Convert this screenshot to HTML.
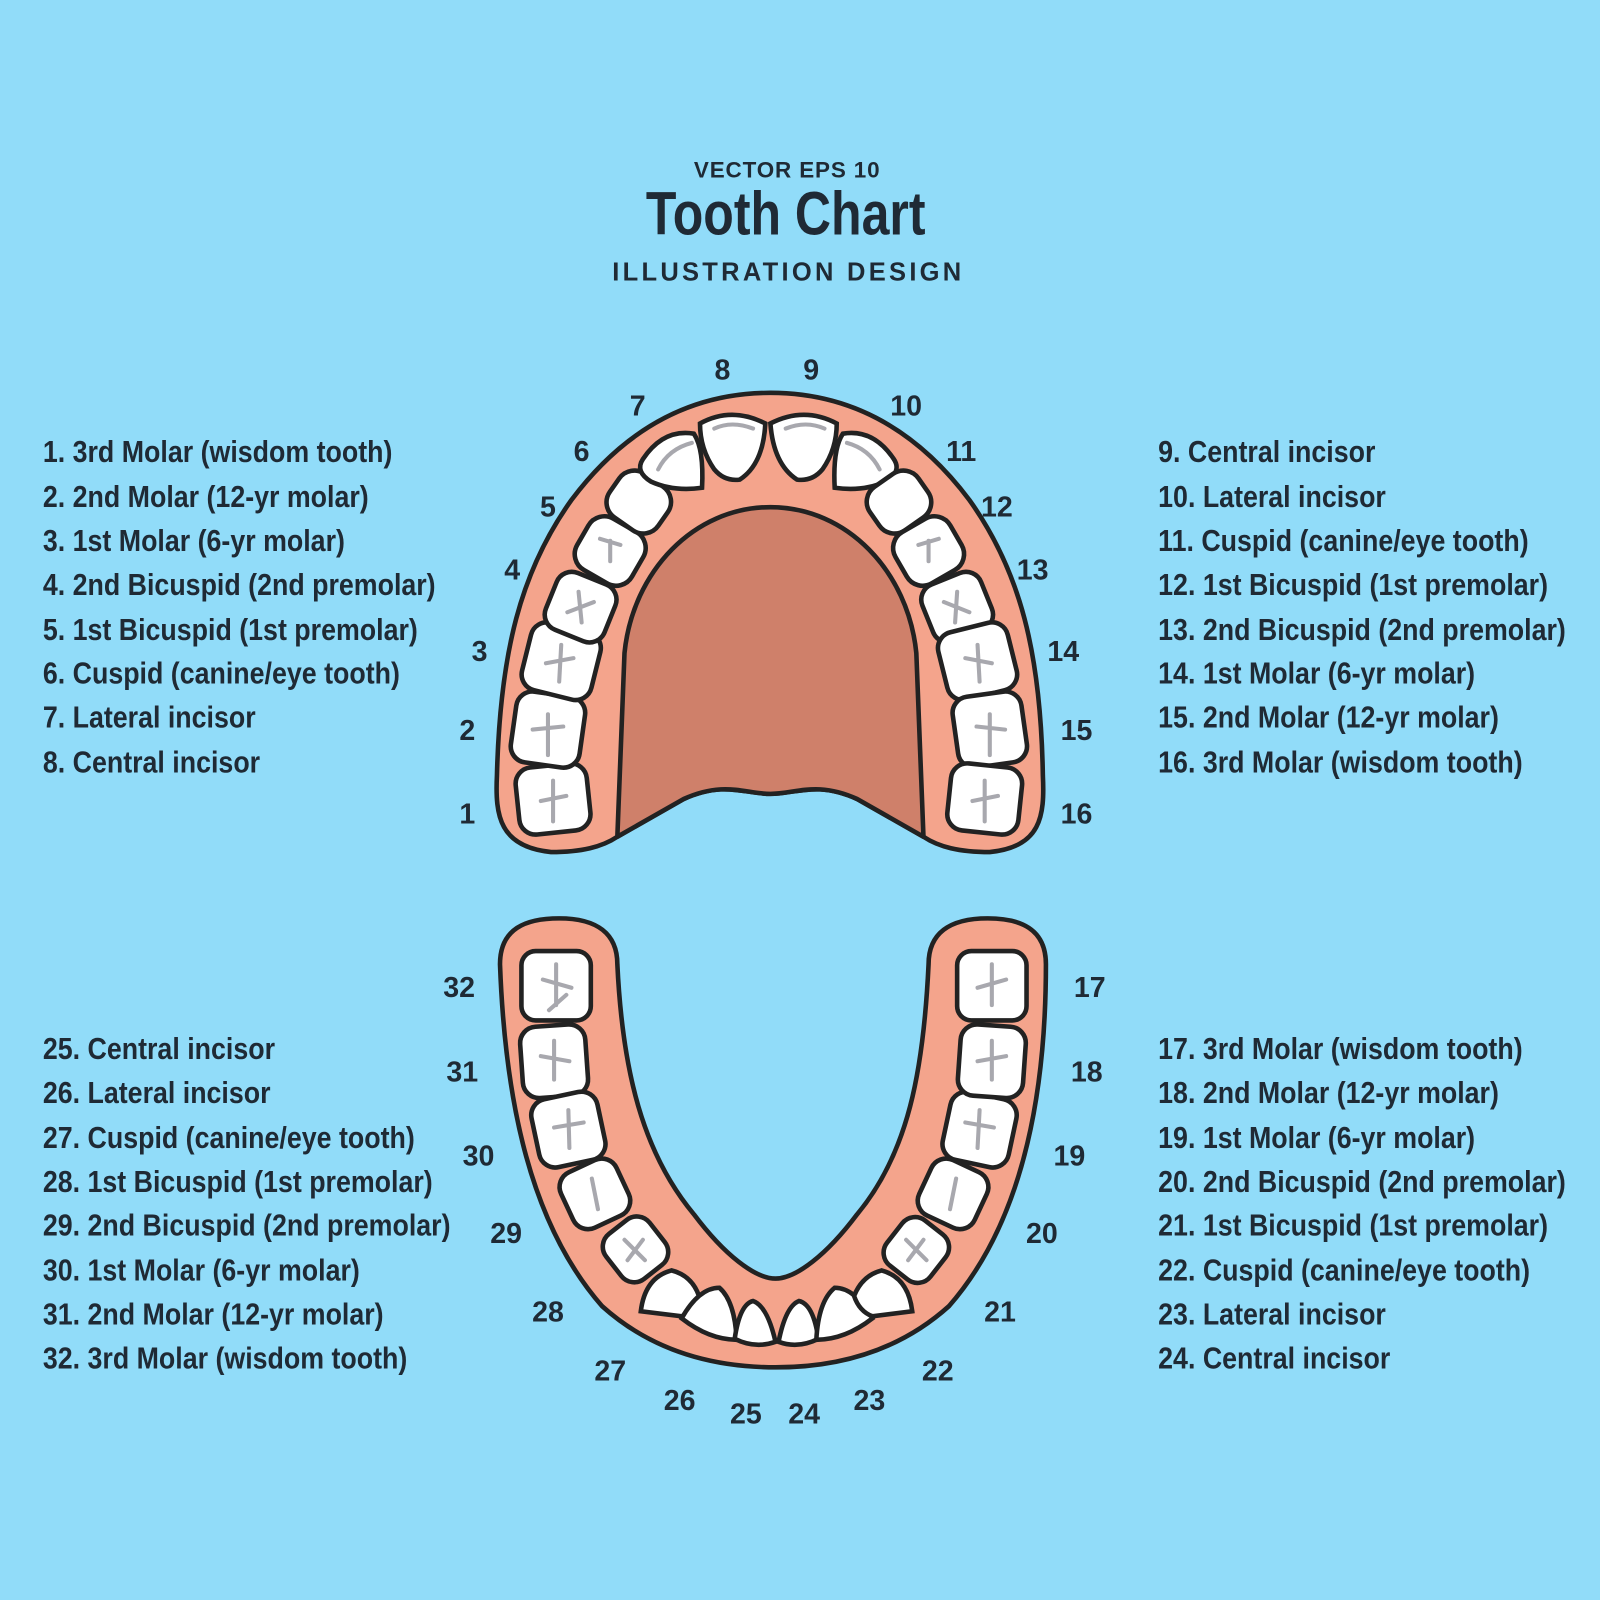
<!DOCTYPE html>
<html><head><meta charset="utf-8"><style>
html,body{margin:0;padding:0;background:#91dcf9;}
svg{display:block;}
text{font-family:"Liberation Sans",sans-serif;font-weight:bold;fill:#1f2a35;}
.n{font-size:28px;text-anchor:middle;}
.l{font-size:30px;}
</style></head><body>
<svg width="1600" height="1600" viewBox="0 0 1568 1568" xmlns="http://www.w3.org/2000/svg">
<rect width="1568" height="1568" fill="#91dcf9"/>
<text x="680" y="174" style="font-size:22px" textLength="182" lengthAdjust="spacing">VECTOR EPS 10</text>
<text x="633" y="230" style="font-size:60px" textLength="274" lengthAdjust="spacingAndGlyphs">Tooth Chart</text>
<text x="600" y="275" style="font-size:25px" textLength="342" lengthAdjust="spacing">ILLUSTRATION DESIGN</text>

<g stroke="#222" stroke-width="4.5" stroke-linejoin="round">
<path fill="#f4a48c" d="M540,835 C490,830 485,800 487,760 C490,640 510,560 560,490 C620,410 690,385 755,385 C820,385 890,410 950,490 C1000,560 1020,640 1022,760 C1024,800 1020,830 970,835 C940,835 920,830 905,820 L840,783 C800,765 780,778 755,778 C730,778 710,765 670,783 L605,820 C590,830 570,835 540,835 Z"/>
<path fill="#cf806a" d="M605,820 L612,640 C620,560 680,497 755,497 C830,497 890,560 898,640 L905,820 L840,783 C800,765 780,778 755,778 C730,778 710,765 670,783 Z"/>
</g>
<g fill="#fff" stroke="#222" stroke-width="4.5">
<rect x="507" y="750" width="70" height="66" rx="16" transform="rotate(-6 542 783)"/>
<rect x="503" y="680" width="68" height="70" rx="16" transform="rotate(8 537 715)"/>
<rect x="515" y="614" width="70" height="68" rx="16" transform="rotate(14 550 648)"/>
<rect x="538" y="565" width="62" height="60" rx="16" transform="rotate(22 569 595)"/>
<rect x="567" y="511" width="62" height="58" rx="18" transform="rotate(30 598 540)"/>
<rect x="597" y="466" width="58" height="52" rx="18" transform="rotate(35 626 492)"/>
<path d="M630,450 Q650,420 680,425 Q690,440 688,478 Q660,482 638,472 Q622,462 630,450Z"/>
<path d="M686,415 Q717,398 750,415 Q748,455 725,470 Q710,472 700,460 Q686,440 686,415Z"/>
<path d="M755,415 Q788,398 820,415 Q820,440 806,460 Q796,472 781,470 Q758,455 755,415Z"/>
<path d="M826,425 Q856,420 876,450 Q884,462 868,472 Q846,482 818,478 Q816,440 826,425Z"/>
<rect x="852" y="466" width="58" height="52" rx="18" transform="rotate(-35 881 492)"/>
<rect x="879" y="511" width="62" height="58" rx="18" transform="rotate(-30 910 540)"/>
<rect x="907" y="565" width="62" height="60" rx="16" transform="rotate(-22 938 595)"/>
<rect x="923" y="614" width="70" height="68" rx="16" transform="rotate(-14 958 648)"/>
<rect x="936" y="680" width="68" height="70" rx="16" transform="rotate(-8 970 715)"/>
<rect x="930" y="750" width="70" height="66" rx="16" transform="rotate(6 965 783)"/>
</g>
<g fill="none" stroke="#a8a8ae" stroke-width="4" stroke-linecap="round">
<path d="M645,460 Q655,440 678,434"/><path d="M700,420 Q717,412 738,420"/><path d="M770,420 Q790,412 808,420"/><path d="M830,434 Q852,440 862,460"/>
<path d="M542,765 L542,805 M530,785 L555,780"/><path d="M537,700 L537,740 M522,715 L552,712"/><path d="M550,632 L548,668 M535,650 L562,645"/>
<path d="M567,580 L570,610 M556,600 L582,590"/><path d="M598,530 L598,550 M588,528 L608,534"/>
<path d="M965,765 L965,805 M953,785 L978,780"/><path d="M970,700 L970,740 M957,712 L985,715"/><path d="M958,632 L960,668 M946,645 L972,650"/>
<path d="M938,580 L936,610 M925,590 L950,600"/><path d="M910,530 L910,550 M900,534 L920,528"/>
</g>

<path fill="#f4a48c" stroke="#222" stroke-width="4.5" d="M490,945 C490,910 515,900 548,900 C585,900 605,915 605,945 C610,1050 630,1130 680,1190 C710,1230 740,1253 760,1253 C780,1253 810,1230 840,1190 C890,1130 905,1050 910,945 C910,915 930,900 968,900 C1000,900 1025,910 1025,945 C1025,1080 1000,1200 930,1280 C880,1325 820,1340 760,1340 C700,1340 640,1325 590,1280 C520,1200 495,1080 490,945 Z"/>
<g fill="#fff" stroke="#222" stroke-width="4.5">
<rect x="511" y="932" width="68" height="68" rx="14"/>
<rect x="511" y="1005" width="64" height="70" rx="16" transform="rotate(-4 543 1040)"/>
<rect x="524" y="1073" width="66" height="68" rx="16" transform="rotate(-12 557 1107)"/>
<rect x="553" y="1140" width="60" height="60" rx="16" transform="rotate(-25 583 1170)"/>
<rect x="596" y="1197" width="54" height="56" rx="16" transform="rotate(-38 622 1225)"/>
<path d="M628,1285 Q632,1252 658,1245 Q678,1250 685,1270 Q680,1285 668,1290 Z"/>
<path d="M668,1292 Q685,1262 705,1262 Q720,1275 722,1313 Q695,1313 668,1292Z"/>
<path d="M720,1312 Q725,1278 738,1275 Q752,1280 760,1315 Q740,1322 720,1312Z"/>
<path d="M763,1315 Q770,1280 783,1275 Q797,1278 802,1312 Q782,1322 763,1315Z"/>
<path d="M800,1313 Q802,1275 818,1262 Q838,1262 855,1292 Q828,1313 800,1313Z"/>
<path d="M855,1290 Q842,1285 837,1270 Q845,1250 864,1245 Q890,1252 894,1285 Z"/>
<rect x="871" y="1197" width="54" height="56" rx="16" transform="rotate(38 898 1225)"/>
<rect x="904" y="1140" width="60" height="60" rx="16" transform="rotate(25 934 1170)"/>
<rect x="927" y="1073" width="66" height="68" rx="16" transform="rotate(12 960 1107)"/>
<rect x="940" y="1005" width="64" height="70" rx="16" transform="rotate(4 972 1040)"/>
<rect x="938" y="932" width="68" height="68" rx="14"/>
</g>
<g fill="none" stroke="#a8a8ae" stroke-width="4" stroke-linecap="round">
<path d="M545,945 L545,985 M532,960 L560,968 M538,990 L555,975"/><path d="M543,1020 L543,1058 M530,1035 L558,1040"/>
<path d="M557,1088 L558,1125 M543,1105 L572,1100"/><path d="M580,1155 L586,1185"/><path d="M612,1215 L632,1235 M615,1235 L630,1215"/>
<path d="M972,945 L972,985 M958,968 L986,960"/><path d="M972,1020 L972,1058 M958,1040 L986,1035"/>
<path d="M960,1088 L958,1125 M946,1100 L974,1105"/><path d="M937,1155 L931,1185"/><path d="M888,1215 L908,1235 M905,1215 L890,1235"/>
</g>

<g>
<text class="n" x="708" y="372">8</text><text class="n" x="795" y="372">9</text>
<text class="n" x="625" y="407">7</text><text class="n" x="888" y="407">10</text>
<text class="n" x="570" y="452">6</text><text class="n" x="942" y="452">11</text>
<text class="n" x="537" y="506">5</text><text class="n" x="977" y="506">12</text>
<text class="n" x="502" y="568">4</text><text class="n" x="1012" y="568">13</text>
<text class="n" x="470" y="648">3</text><text class="n" x="1042" y="648">14</text>
<text class="n" x="458" y="725">2</text><text class="n" x="1055" y="725">15</text>
<text class="n" x="458" y="807">1</text><text class="n" x="1055" y="807">16</text>
<text class="n" x="450" y="977">32</text><text class="n" x="1068" y="977">17</text>
<text class="n" x="453" y="1060">31</text><text class="n" x="1065" y="1060">18</text>
<text class="n" x="469" y="1142">30</text><text class="n" x="1048" y="1142">19</text>
<text class="n" x="496" y="1218">29</text><text class="n" x="1021" y="1218">20</text>
<text class="n" x="537" y="1295">28</text><text class="n" x="980" y="1295">21</text>
<text class="n" x="598" y="1353">27</text><text class="n" x="919" y="1353">22</text>
<text class="n" x="666" y="1382">26</text><text class="n" x="852" y="1382">23</text>
<text class="n" x="731" y="1395">25</text><text class="n" x="788" y="1395">24</text>
</g>

<g transform="translate(42,0) scale(0.875,1)">
<text class="l" x="0" y="453">1. 3rd Molar (wisdom tooth)</text>
<text class="l" x="0" y="497">2. 2nd Molar (12-yr molar)</text>
<text class="l" x="0" y="540">3. 1st Molar (6-yr molar)</text>
<text class="l" x="0" y="583">4. 2nd Bicuspid (2nd premolar)</text>
<text class="l" x="0" y="627">5. 1st Bicuspid (1st premolar)</text>
<text class="l" x="0" y="670">6. Cuspid (canine/eye tooth)</text>
<text class="l" x="0" y="713">7. Lateral incisor</text>
<text class="l" x="0" y="757">8. Central incisor</text>
<text class="l" x="0" y="1038">25. Central incisor</text>
<text class="l" x="0" y="1081">26. Lateral incisor</text>
<text class="l" x="0" y="1125">27. Cuspid (canine/eye tooth)</text>
<text class="l" x="0" y="1168">28. 1st Bicuspid (1st premolar)</text>
<text class="l" x="0" y="1211">29. 2nd Bicuspid (2nd premolar)</text>
<text class="l" x="0" y="1255">30. 1st Molar (6-yr molar)</text>
<text class="l" x="0" y="1298">31. 2nd Molar (12-yr molar)</text>
<text class="l" x="0" y="1341">32. 3rd Molar (wisdom tooth)</text>
</g>
<g transform="translate(1135,0) scale(0.875,1)">
<text class="l" x="0" y="453">9. Central incisor</text>
<text class="l" x="0" y="497">10. Lateral incisor</text>
<text class="l" x="0" y="540">11. Cuspid (canine/eye tooth)</text>
<text class="l" x="0" y="583">12. 1st Bicuspid (1st premolar)</text>
<text class="l" x="0" y="627">13. 2nd Bicuspid (2nd premolar)</text>
<text class="l" x="0" y="670">14. 1st Molar (6-yr molar)</text>
<text class="l" x="0" y="713">15. 2nd Molar (12-yr molar)</text>
<text class="l" x="0" y="757">16. 3rd Molar (wisdom tooth)</text>
<text class="l" x="0" y="1038">17. 3rd Molar (wisdom tooth)</text>
<text class="l" x="0" y="1081">18. 2nd Molar (12-yr molar)</text>
<text class="l" x="0" y="1125">19. 1st Molar (6-yr molar)</text>
<text class="l" x="0" y="1168">20. 2nd Bicuspid (2nd premolar)</text>
<text class="l" x="0" y="1211">21. 1st Bicuspid (1st premolar)</text>
<text class="l" x="0" y="1255">22. Cuspid (canine/eye tooth)</text>
<text class="l" x="0" y="1298">23. Lateral incisor</text>
<text class="l" x="0" y="1341">24. Central incisor</text>
</g>
</svg>
</body></html>
